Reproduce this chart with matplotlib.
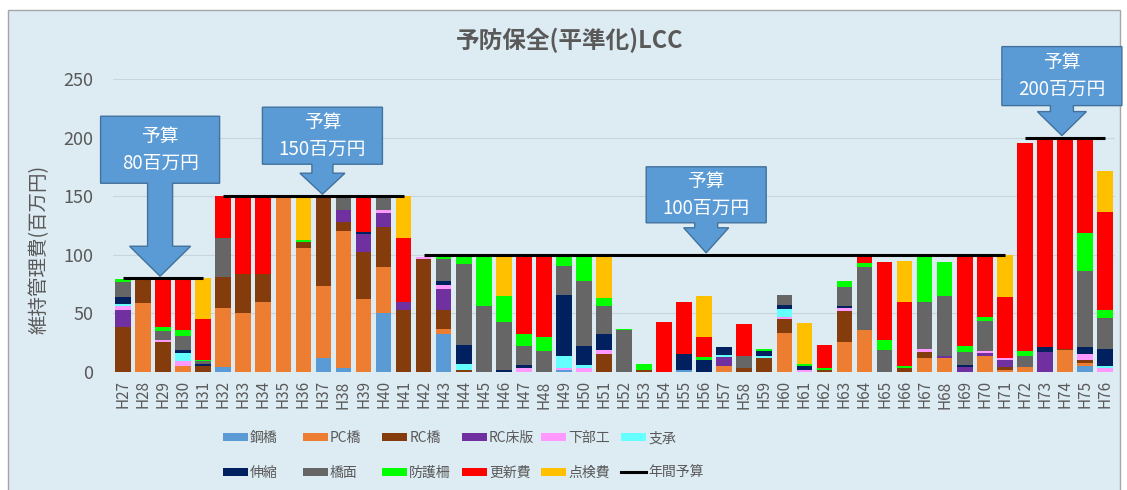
import numpy as np
import matplotlib
matplotlib.use("Agg")
import matplotlib.pyplot as plt
from matplotlib.patches import Rectangle, Polygon, Patch
from matplotlib.lines import Line2D

plt.rcParams['font.family'] = ['Noto Sans CJK JP', 'DejaVu Sans']

# years H27..H76
years = ["H%d" % y for y in range(27, 77)]

# stacked series (百万円), bottom to top
steel = [0, 0, 0, 0, 0, 4, 0, 0, 0, 0, 12, 3, 0, 50, 0, 0, 32, 0, 0, 0, 0, 0, 2, 0, 0, 0, 0, 0, 2, 0,
         0, 0, 0, 0, 0, 0, 0, 0, 0, 0, 0, 0, 0, 0, 0, 0, 0, 0, 5, 0]
pc = [0, 59, 0, 5, 0, 51, 50, 60, 150, 106, 61, 117, 62, 40, 0, 0, 5, 0, 0, 0, 0, 0, 0, 0, 0, 0, 0, 0, 0, 0,
      5.5, 0, 0, 33, 0, 0, 26, 36, 0, 0, 12, 12, 0, 14, 2, 4, 0, 18.5, 3, 0]
rc = [38, 21, 26, 0, 5, 26, 34, 24, 0, 5, 77, 8, 40, 34, 53, 96, 16, 2, 0, 0, 0, 0, 0, 0, 15, 0, 1.5, 0, 0, 0,
      0, 3.5, 12, 12.5, 0, 2, 26, 0, 0, 3.5, 5, 0, 0, 0, 2, 0, 0, 1.5, 2, 0]
rc_slab = [15, 0, 0, 0, 0, 0, 0, 0, 0, 0, 0, 10, 16, 12, 6.5, 0, 18, 0, 0, 0, 0, 0, 0, 0, 0, 0, 0, 0, 0, 0,
           7.5, 0, 0, 0, 0, 0, 0, 0, 0, 0, 0, 2, 4, 2.5, 6, 0, 17, 0, 0, 0]
substructure = [3, 0, 1, 4, 0, 0, 0, 0, 0, 0, 0, 0, 0, 2, 0, 2, 3, 0, 0, 0, 3, 0, 1.5, 3.5, 4, 0, 0, 0, 0, 0,
                0, 0, 0, 1.5, 2, 0, 3, 0, 0, 0, 3, 0, 0, 1.5, 2, 0, 0, 0, 5, 3.5]
bearing = [2, 0, 0, 7, 0, 0, 0, 0, 0, 0, 0, 0, 0, 0, 0, 0, 0, 5, 0, 0, 0, 0, 10, 2.5, 0, 0, 0, 0, 0, 0,
           1.5, 0, 1.5, 7, 0, 0, 0, 0, 0, 0, 0, 0, 0, 0, 0, 0, 0, 0, 0, 2]
joint = [6, 0, 0.5, 3, 2, 0, 0, 0, 0, 0, 0, 0, 1.5, 0, 0, 0, 4, 16, 0, 2, 3, 0, 52, 16, 13, 0, 0, 0, 13, 10,
         6.5, 0, 4, 3.5, 3, 0, 1, 0, 0, 0, 0, 0, 2, 0, 0, 0, 4, 0, 6.5, 14]
deck = [13, 0, 7.5, 12, 2, 33, 0, 0, 0, 0, 0, 12, 0, 12, 0, 0, 18, 69, 56, 41, 16, 18, 25, 56, 24, 36, 0, 0, 0, 0,
        0, 10, 0, 8, 0, 0, 16.5, 54, 19, 0, 40, 51, 11, 25.5, 0, 10, 0, 0, 65, 27]
guardrail = [2, 0, 3, 5, 1, 0, 0, 0, 0, 2, 0, 0, 0, 0, 0, 0, 4, 8, 44, 22, 10, 12, 9.5, 22, 7, 1, 5, 0, 0, 3,
             0, 0, 2, 0, 1.5, 1.5, 5, 3, 8.5, 1.5, 40, 29, 5, 3.5, 0, 4, 0, 0, 32.5, 6]
renewal = [0, 0, 42, 44, 35, 36, 66, 66, 0, 0, 0, 0, 30.5, 0, 54.5, 0, 0, 0, 0, 0, 68, 70, 0, 0, 0, 0, 0, 43, 45, 17,
           0, 27.5, 0, 0, 0, 19.5, 0, 7, 66, 55, 0, 0, 78, 53, 52, 177, 177, 178, 79, 84]
inspection = [0, 0, 0, 0, 35, 0, 0, 0, 0, 37, 0, 0, 0, 0, 36, 0, 0, 0, 0, 35, 0, 0, 0, 0, 37, 0, 0, 0, 0, 35,
              0, 0, 0, 0, 35.5, 0, 0, 0, 0, 35, 0, 0, 0, 0, 36, 0, 0, 0, 0, 35]

# annual budget per year
budget = [80] * 5 + [150] * 10 + [100] * 30 + [200] * 5

series_names = ["鋼橋", "PC橋", "RC橋", "RC床版", "下部工", "支承",
                "伸縮", "橋面", "防護柵", "更新費", "点検費"]
series_vals = [steel, pc, rc, rc_slab, substructure, bearing,
               joint, deck, guardrail, renewal, inspection]
series_colors = ["#5B9BD5", "#ED7D31", "#843C0C", "#7030A0", "#FF99FF", "#66FFFF",
                 "#002060", "#666666", "#00FF00", "#FF0000", "#FFC000"]

W, H = 1127, 490
fig = plt.figure(figsize=(W / 100, H / 100), dpi=100, facecolor="white")
fig.patches.append(Rectangle((8 / W, -0.01), 1112 / W, 1 - 10 / H + 0.01, transform=fig.transFigure,
                             facecolor="#DDEBF3", edgecolor="#A6A6A6", lw=1, zorder=-1))

ax = fig.add_axes([113 / W, (H - 372) / H, 1002 / W, 293 / H])
ax.set_facecolor("none")

x = np.arange(len(years))
bottom = np.zeros(len(years))
handles = []
for name, vals, col in zip(series_names, series_vals, series_colors):
    v = np.array(vals, dtype=float)
    ax.bar(x, v, 0.78, bottom=bottom, color=col, zorder=2)
    bottom += v
    handles.append(Patch(facecolor=col))

# budget line, one segment per budget level
b = np.array(budget)
start = 0
for i in range(1, len(b) + 1):
    if i == len(b) or b[i] != b[start]:
        ax.plot([x[start], x[i - 1]], [b[start], b[start]], color="black", lw=2.2, zorder=3,
                solid_capstyle="butt")
        start = i
handles.append(Line2D([], [], color="black", lw=2.2))
labels = series_names + ["年間予算"]

ax.set_xlim(-0.5, len(years) - 0.5)
ax.set_ylim(0, 250)
ax.set_yticks(range(0, 251, 50))
ax.set_xticks(x)
ax.set_xticklabels(years, rotation=90, fontsize=11, color="#595959")
ax.tick_params(axis="both", length=0, pad=6)
ax.tick_params(axis="y", labelsize=13, labelcolor="#595959", pad=14)
ax.grid(axis="y", color="#C9D5DD", lw=0.8, zorder=0)
for s in ax.spines.values():
    s.set_visible(False)
ax.set_ylabel("維持管理費(百万円)", fontsize=14, color="#595959")
ax.yaxis.set_label_coords(-0.063, 0.42)

fig.text(570 / W, 1 - 40 / H, "予防保全(平準化)LCC", ha="center", va="center",
         fontsize=17, fontweight="bold", color="#595959")

# legend: 6 columns x 2 rows
for c in range(6):
    fig.legend(handles=[handles[c], handles[c + 6]], labels=[labels[c], labels[c + 6]],
               loc="upper left", bbox_to_anchor=((223 + c * 79.6) / W, 1 - 431 / H),
               frameon=False, fontsize=10, handlelength=1.8, handleheight=0.55,
               handletextpad=0.15, labelspacing=1.5, borderpad=0, borderaxespad=0,
               labelcolor="#595959")

# budget callouts (down arrows)
callouts = [
    (1.85, 80, "予算\n80百万円", 119, 67, 25, 63, 61, 30),
    (9.95, 150, "予算\n150百万円", 120, 57, 21, 9, 45, 21),
    (29.1, 100, "予算\n100百万円", 120, 56, 23, 5, 45, 25),
    (46.85, 200, "予算\n200百万円", 120, 59, 23, 6, 49, 24),
]
inv = fig.transFigure.inverted()
for tx, ty, txt, bw, bh, sw, sh, hw, hh in callouts:
    px, py = ax.transData.transform((tx, ty))
    py += 2
    pts = [(0, 0), (hw / 2, hh), (sw / 2, hh), (sw / 2, hh + sh), (bw / 2, hh + sh),
           (bw / 2, hh + sh + bh), (-bw / 2, hh + sh + bh), (-bw / 2, hh + sh),
           (-sw / 2, hh + sh), (-sw / 2, hh), (-hw / 2, hh)]
    verts = inv.transform([(px + a, py + b_) for a, b_ in pts])
    fig.patches.append(Polygon(verts, closed=True, transform=fig.transFigure,
                               facecolor="#5B9BD5", edgecolor="#41719C", lw=1, zorder=5))
    cx, cy = inv.transform((px, py + hh + sh + bh / 2))
    fig.text(cx, cy, txt, ha="center", va="center", fontsize=13.5, color="white",
             linespacing=1.4, zorder=6)

fig.savefig("out.png", dpi=100, facecolor="white")
